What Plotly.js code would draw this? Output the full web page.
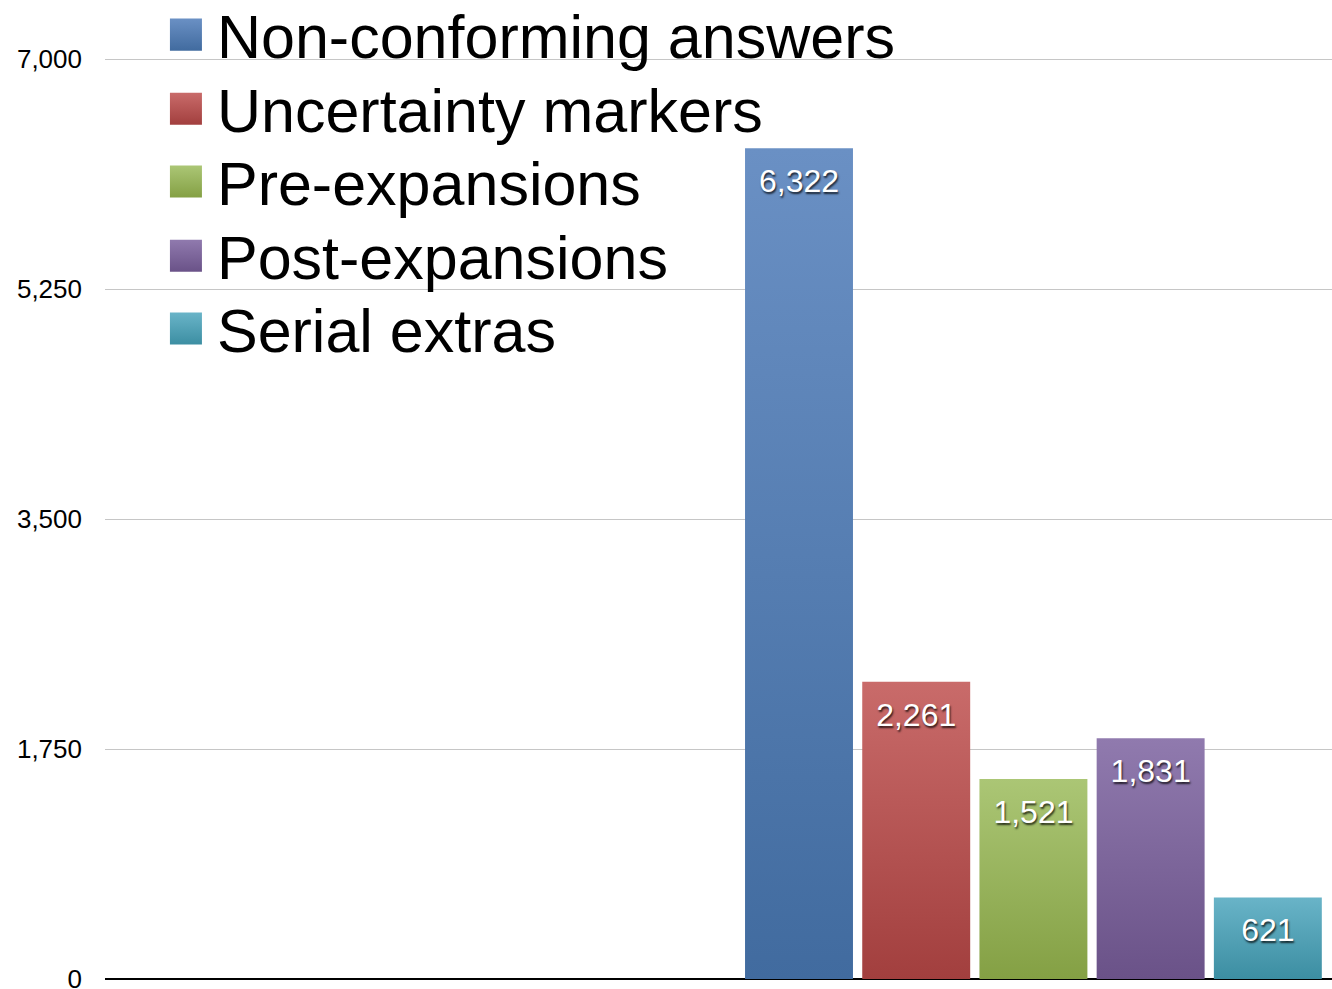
<!DOCTYPE html>
<html>
<head>
<meta charset="utf-8">
<script src="https://cdn.plot.ly/plotly-3.0.1.min.js"></script>
<style>
  html, body { margin: 0; padding: 0; background: #ffffff; }
  #chart { width: 1332px; height: 989px; }
</style>
</head>
<body>
<div id="chart"></div>
<script>
// ---- data ----
var categories = ['Count'];
var seriesNames = ['Non-conforming answers', 'Uncertainty markers', 'Pre-expansions', 'Post-expansions', 'Serial extras'];
var seriesValues = [6322, 2261, 1521, 1831, 621];
var colorsTop = ['#6A90C4', '#C96B6A', '#ABC675', '#907AAE', '#69B4C8'];
var colorsBottom = ['#416B9F', '#A23F3E', '#84A044', '#6A5288', '#3C8EA2'];
var tickValues = [0, 1750, 3500, 5250, 7000];
var tickLabels = ['0', '1,750', '3,500', '5,250', '7,000'];

var FONT = 'Liberation Sans, Arial, Helvetica, sans-serif';
var legendIds = ['legend', 'legend2', 'legend3', 'legend4', 'legend5'];
var legendY = [1.025, 0.9446, 0.8654, 0.785, 0.7058];

var data = seriesNames.map(function (name, i) {
  return {
    type: 'bar',
    name: name,
    x: categories,
    y: [seriesValues[i]],
    legend: legendIds[i],
    marker: { color: colorsBottom[i], line: { width: 0 } },
    texttemplate: '%{y:,}',
    textposition: 'inside',
    insidetextanchor: 'end',
    textangle: 0,
    constraintext: 'none',
    textfont: { family: FONT, size: 32, color: '#ffffff', shadow: '1px 2px 2px rgba(0,0,0,0.75)' },
    hoverinfo: 'skip'
  };
});

var layout = {
  width: 1332,
  height: 989,
  margin: { l: 105, r: 0, t: 58, b: 10, pad: 0, autoexpand: false },
  paper_bgcolor: '#ffffff',
  plot_bgcolor: '#ffffff',
  font: { family: FONT, color: '#000000' },
  barmode: 'group',
  bargap: 0.05,
  bargroupgap: 0.079,
  xaxis: {
    type: 'category',
    range: [-1.505, 0.484],
    showticklabels: false,
    showgrid: false,
    zeroline: false,
    showline: false,
    ticks: ''
  },
  yaxis: {
    range: [0, 7008],
    tickvals: tickValues,
    ticktext: tickLabels,
    tickfont: { family: FONT, size: 26, color: '#000000' },
    ticklabelstandoff: 22,
    ticklabeloverflow: 'allow',
    showgrid: true,
    gridcolor: '#c6c6c6',
    gridwidth: 1,
    zeroline: true,
    zerolinecolor: '#000000',
    zerolinewidth: 2.5,
    showline: false,
    ticks: ''
  },
  showlegend: true
};

legendIds.forEach(function (id, i) {
  layout[id] = {
    x: 0.0407,
    y: legendY[i],
    xanchor: 'left',
    yanchor: 'middle',
    xref: 'paper',
    yref: 'paper',
    bgcolor: 'rgba(0,0,0,0)',
    borderwidth: 0,
    itemwidth: 52,
    font: { family: FONT, size: 61, color: '#000000' }
  };
});

var gd = document.getElementById('chart');

function decorate() {
  var svgNS = 'http://www.w3.org/2000/svg';
  var svg = gd.querySelector('svg.main-svg');
  var defs = svg.querySelector('defs');
  if (!defs) { defs = document.createElementNS(svgNS, 'defs'); svg.insertBefore(defs, svg.firstChild); }
  colorsTop.forEach(function (c, i) {
    var g = document.createElementNS(svgNS, 'linearGradient');
    g.setAttribute('id', 'bargrad' + i);
    g.setAttribute('x1', '0'); g.setAttribute('y1', '0');
    g.setAttribute('x2', '0'); g.setAttribute('y2', '1');
    var s1 = document.createElementNS(svgNS, 'stop');
    s1.setAttribute('offset', '0'); s1.setAttribute('stop-color', colorsTop[i]);
    var s2 = document.createElementNS(svgNS, 'stop');
    s2.setAttribute('offset', '1'); s2.setAttribute('stop-color', colorsBottom[i]);
    g.appendChild(s1); g.appendChild(s2);
    defs.appendChild(g);
  });
  // bars
  var traces = gd.querySelectorAll('.barlayer .trace');
  traces.forEach(function (t) {
    var d = t.__data__;
    var idx = (d && d[0] && d[0].trace) ? d[0].trace.index : null;
    if (idx === null) return;
    t.querySelectorAll('.point path').forEach(function (p) {
      p.style.fill = 'url(#bargrad' + idx + ')';
    });
    t.querySelectorAll('text.bartext').forEach(function (tx) {
      var tr = tx.getAttribute('transform') || '';
      tx.setAttribute('transform', 'translate(0,12) ' + tr);
    });
  });
  // legend symbols
  gd.querySelectorAll('g.traces').forEach(function (t) {
    var d = t.__data__;
    var idx = (d && d[0] && d[0].trace) ? d[0].trace.index : null;
    if (idx === null) return;
    t.querySelectorAll('.legendpoints path').forEach(function (p) {
      p.setAttribute('transform', 'translate(31,0) scale(2.667)');
      p.style.fill = 'url(#bargrad' + idx + ')';
      p.style.strokeWidth = '0';
    });
  });
}

Plotly.newPlot(gd, data, layout, { staticPlot: true, displayModeBar: false }).then(decorate);
</script>
</body>
</html>
